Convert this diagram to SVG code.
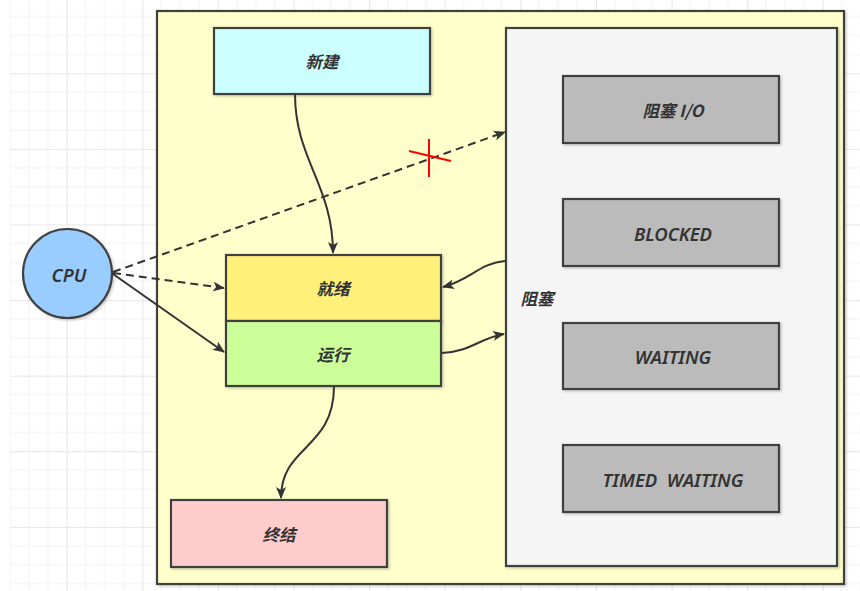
<svg xmlns="http://www.w3.org/2000/svg" width="860" height="591" viewBox="0 0 860 591">
<defs>
<pattern id="grid" patternUnits="userSpaceOnUse" x="66.7" y="73.3" width="75.6" height="75.6">
<path d="M18.9,0V75.6M37.8,0V75.6M56.7,0V75.6M0,18.9H75.6M0,37.8H75.6M0,56.7H75.6" stroke="#f2f2f2" stroke-width="1" fill="none"/>
<path d="M0.5,0V75.6M0,0.5H75.6" stroke="#e6e6e6" stroke-width="1.2" fill="none"/>
</pattern>
<marker id="arr" viewBox="0 0 12 10" refX="11" refY="5" markerWidth="12" markerHeight="10" markerUnits="userSpaceOnUse" orient="auto">
<path d="M0,0 L12,5 L0,10 L3,5 z" fill="#333"/>
</marker>
<filter id="sh" x="-5%" y="-5%" width="115%" height="115%">
<feDropShadow dx="1.5" dy="1.5" stdDeviation="1" flood-color="#000" flood-opacity="0.2"/>
</filter>
</defs>
<style>
.box{stroke:#404040;stroke-width:2.2;filter:url(#sh)}
.t{font-family:"Microsoft YaHei","Noto Sans CJK SC","Noto Sans",sans-serif;font-style:italic;font-size:16.5px;font-weight:bold;fill:#333;text-anchor:middle;dominant-baseline:central}
.l{font-family:"Noto Sans","Open Sans",sans-serif;font-size:18.5px;font-weight:600}
.c{fill:none;stroke:#333;stroke-width:2}
.d{stroke-dasharray:8 5}
</style>
<rect width="860" height="591" fill="#fff"/>
<rect x="10" y="0" width="850" height="591" fill="url(#grid)"/>
<g id="container">
<rect class="box" x="157" y="11" width="687" height="573" fill="#ffffcc"/>
</g>
<g id="blocked-panel">
<rect class="box" x="506" y="28" width="331" height="538" fill="#f5f5f5"/>
<text class="t" x="537" y="298" font-size="15">阻塞</text>
</g>
<g id="new">
<rect class="box" x="214" y="28" width="216" height="66" fill="#ccffff"/>
<text class="t" x="322" y="61">新建</text>
</g>
<g id="ready">
<rect class="box" x="226" y="255" width="215" height="66" fill="#fff07a"/>
<text class="t" x="333" y="288">就绪</text>
</g>
<g id="running">
<rect class="box" x="226" y="321" width="215" height="65" fill="#ccff99"/>
<text class="t" x="333" y="354">运行</text>
</g>
<g id="terminated">
<rect class="box" x="171" y="500" width="216" height="67" fill="#ffcccc"/>
<text class="t" x="279" y="534">终结</text>
</g>
<g id="blocked-io">
<rect class="box" x="563" y="76" width="216" height="67" fill="#bbbbbb"/>
<text class="t" x="673" y="110" xml:space="preserve">阻塞 I/O</text>
</g>
<g id="blocked">
<rect class="box" x="563" y="199" width="216" height="67" fill="#bbbbbb"/>
<text class="t l" x="673" y="233">BLOCKED</text>
</g>
<g id="waiting">
<rect class="box" x="563" y="323" width="216" height="66" fill="#bbbbbb"/>
<text class="t l" x="673" y="356">WAITING</text>
</g>
<g id="timed-waiting">
<rect class="box" x="563" y="445" width="216" height="67" fill="#bbbbbb"/>
<text class="t l" x="673" y="479" xml:space="preserve">TIMED  WAITING</text>
</g>
<g id="cpu">
<circle class="box" cx="67.5" cy="273.5" r="44.5" fill="#99ccff"/>
<text class="t l" x="69" y="274" font-size="18">CPU</text>
</g>
<g id="connectors">
<path class="c" d="M295,94 C295,160 333,185 333,253" marker-end="url(#arr)"/>
<path class="c d" d="M113,272 L505,132" marker-end="url(#arr)"/>
<path class="c d" d="M113,273 L224,288" marker-end="url(#arr)"/>
<path class="c" d="M113,274 L224,352" marker-end="url(#arr)"/>
<path class="c" d="M505,261 C480,263 470,280 443,287" marker-end="url(#arr)"/>
<path class="c" d="M442,353 C470,352 480,338 504,334" marker-end="url(#arr)"/>
<path class="c" d="M334,386 C334,450 281,445 281,498" marker-end="url(#arr)"/>
<path d="M409,151 L451,161 M429,139 L429,177" stroke="#ff0000" stroke-width="2" fill="none"/>
</g>
</svg>
